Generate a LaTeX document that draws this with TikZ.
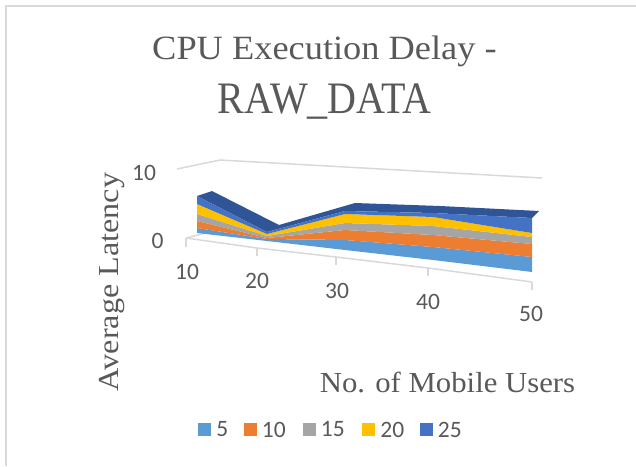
\documentclass[tikz,border=0pt]{standalone}
\usepackage{fontspec}
\usepackage{graphicx}
\setmainfont{Liberation Serif}
\newfontfamily\numfont{Carlito}
\definecolor{sfive}{HTML}{5B9BD5}
\definecolor{sten}{HTML}{ED7D31}
\definecolor{sfifteen}{HTML}{A5A5A5}
\definecolor{stwenty}{HTML}{FFC000}
\definecolor{stwentyfive}{HTML}{4472C4}
\definecolor{topface}{HTML}{2F5597}
\definecolor{gridgray}{HTML}{D9D9D9}
\definecolor{txtgray}{HTML}{595959}
\tikzset{
  gridline/.style={draw=gridgray, line width=1.5pt},
  ticklab/.style={text=txtgray, inner sep=0pt, font=\numfont\fontsize{23.5}{27}\selectfont},
  legsq/.style={minimum size=13pt, inner sep=0pt},
}
\begin{document}
\begin{tikzpicture}[x=1pt, y=-1pt]
\path[use as bounding box] (0,0) rectangle (636,466);
% chart frame
\draw[gridgray, line width=1.2pt] (6,466) -- (6,6) -- (636,6);
% titles
\node[anchor=base, text=txtgray, inner sep=0pt, font=\fontsize{34}{40}\selectfont] (title) at (324.5,59) {\scalebox{1.07}[1]{CPU Execution Delay -}};
\node[anchor=base, text=txtgray, inner sep=0pt, font=\fontsize{45}{52}\selectfont] (subtitle) at (324.5,113) {\scalebox{0.89}[1]{RAW\_DATA}};
% walls and floor
\draw[gridline] (177,169) -- (220,160) -- (542,178);
\draw[gridline] (186,238) -- (222,229);
\draw[gridline] (186,238) -- (257,248) -- (336,257) -- (428,268) -- (532,282);
\draw[gridline] (186,238) -- ++(0,9) (257,248) -- ++(0,8) (336,257) -- ++(0,8)
  (428,268) -- ++(0,8) (532,282) -- ++(0,8);
% stacked areas
\fill[topface] (197,196) -- (267,232) -- (345,211) -- (433,213) -- (532,218)
  -- (539,211) -- (440,206) -- (355,203) -- (279,225) -- (212,191) -- cycle;
\fill[sfive] (197,233) -- (267,241) -- (345,250) -- (433,260) -- (532,272)
  -- (532,257) -- (433,247) -- (345,240) -- (267,239) -- (197,228) -- cycle;
\fill[sten] (197,228) -- (267,239) -- (345,240) -- (433,247) -- (532,257)
  -- (532,244) -- (433,235) -- (345,230) -- (267,238) -- (197,221) -- cycle;
\fill[sfifteen] (197,221) -- (267,238) -- (345,230) -- (433,235) -- (532,244)
  -- (532,237) -- (433,226) -- (345,223) -- (267,236) -- (197,214) -- cycle;
\fill[stwenty] (197,214) -- (267,236) -- (345,223) -- (433,226) -- (532,237)
  -- (532,233) -- (433,217) -- (345,214) -- (267,234) -- (197,204) -- cycle;
\fill[stwentyfive] (197,204) -- (267,234) -- (345,214) -- (433,217) -- (532,233)
  -- (532,218) -- (433,213) -- (345,211) -- (267,232) -- (197,196) -- cycle;
% axis labels
\node[ticklab] (ymax) at (144,172.5) {10};
\node[ticklab] (yzero) at (157.5,241) {0};
\node[ticklab] (xa) at (187,272) {10};
\node[ticklab] (xb) at (257,281) {20};
\node[ticklab] (xc) at (337,291) {30};
\node[ticklab] (xd) at (428,302) {40};
\node[ticklab] (xe) at (531,314) {50};
\node[anchor=base, rotate=90, text=txtgray, inner sep=0pt, font=\fontsize{29}{34}\selectfont] (ytitle) at (118,282) {\scalebox{1.11}[1]{Average Latency}};
\node[anchor=base, text=txtgray, inner sep=0pt, font=\fontsize{29}{34}\selectfont] (xtitle) at (447.5,392) {\scalebox{1.06}[1]{No. of Mobile Users}};
% legend
\foreach \px/\col/\lab in {204.5/sfive/5, 250/sten/10, 309/sfifteen/15, 368.5/stwenty/20, 426/stwentyfive/25}{
  \node[legsq, fill=\col] (key\lab) at (\px,429.5) {};
  \node[ticklab, anchor=west] (keylab\lab) at ([xshift=5pt]key\lab.east) {\lab};
}
\end{tikzpicture}
\end{document}
